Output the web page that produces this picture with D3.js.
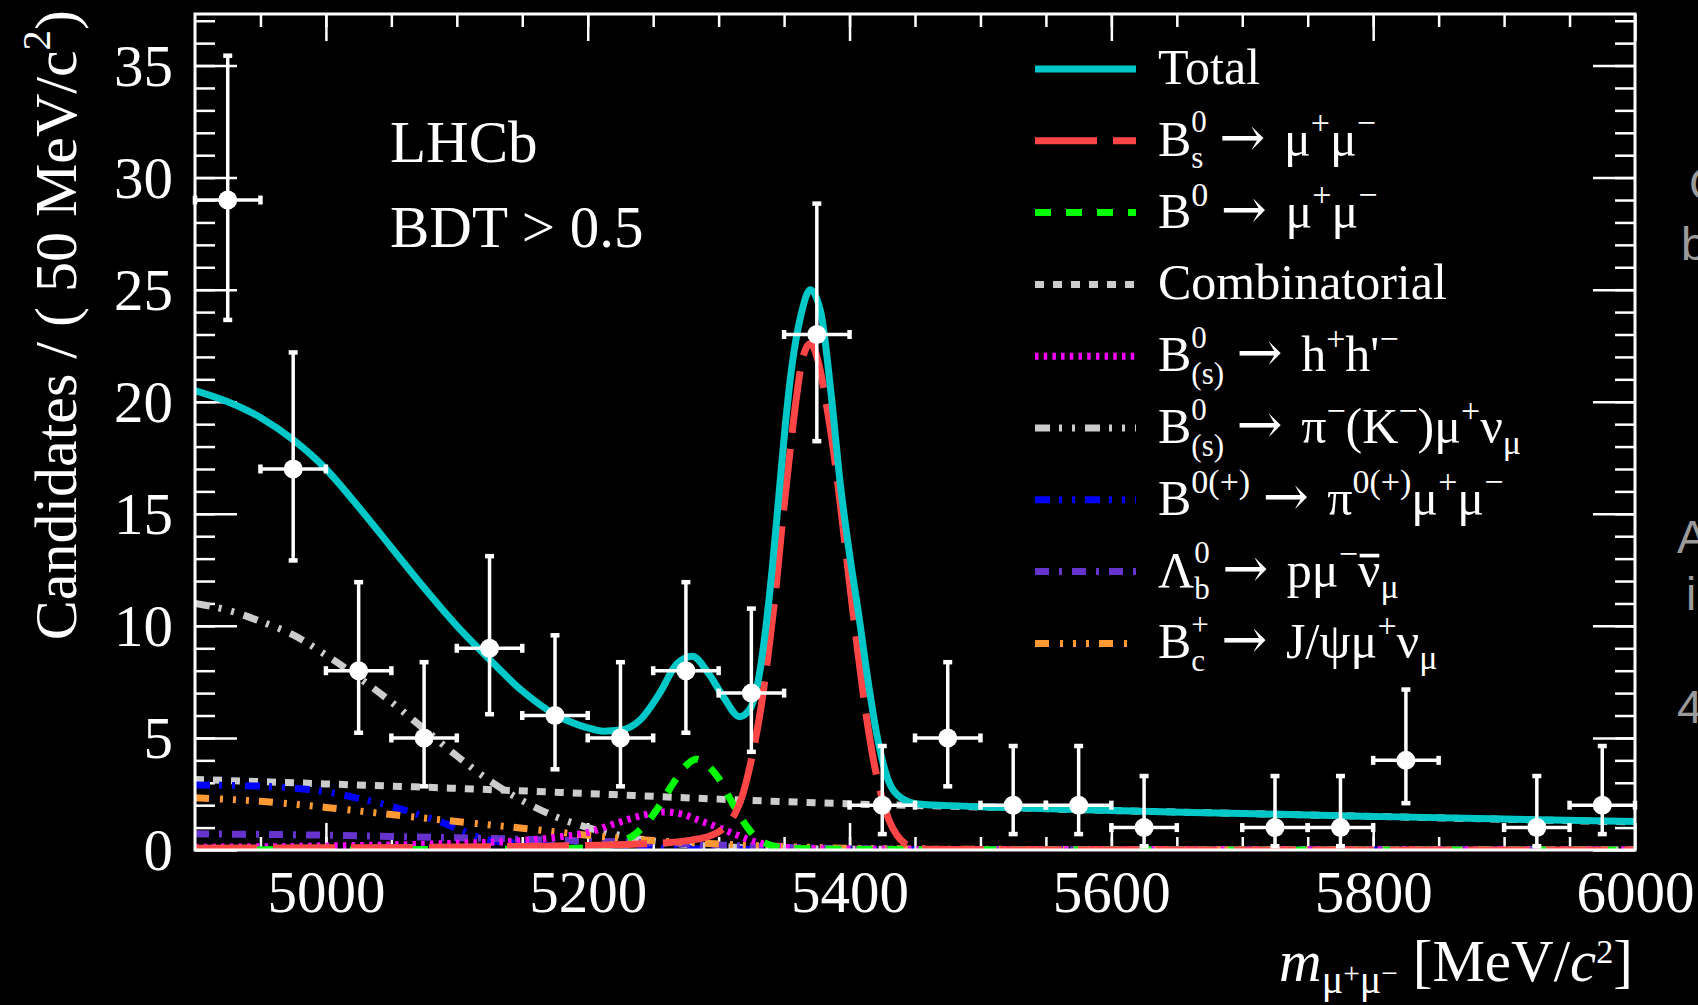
<!DOCTYPE html>
<html>
<head>
<meta charset="utf-8">
<script src="https://cdn.jsdelivr.net/npm/d3@7"></script>
<style>
  html, body { margin: 0; padding: 0; background: #000; }
  svg { display: block; }
  text { font-family: "Liberation Serif", "Times New Roman", serif; fill: #fff; white-space: pre; }
</style>
</head>
<body>
<svg id="chart" width="1698" height="1005"></svg>
<script>
// ---- data points (50 MeV bins) ----
const massCenters = [4925, 4975, 5025, 5075, 5125, 5175, 5225, 5275, 5325, 5375, 5425,
                     5475, 5525, 5575, 5625, 5675, 5725, 5775, 5825, 5875, 5925, 5975]
const counts  = [29, 17, 8, 5, 9, 6, 5, 8, 7, 23, 2, 5, 2, 2, 1, 0, 1, 1, 4, 0, 1, 2]
const errLow  = [5.35, 4.08, 2.77, 2.16, 2.94, 2.40, 2.16, 2.77, 2.62, 4.76, 1.29,
                 2.16, 1.29, 1.29, 0.83, 0, 0.83, 0.83, 1.91, 0, 0.83, 1.29]
const errHigh = [6.44, 5.20, 3.95, 3.38, 4.11, 3.58, 3.38, 3.95, 3.77, 5.84, 2.64,
                 3.38, 2.64, 2.64, 2.30, 0, 2.30, 2.30, 3.16, 0, 2.30, 2.64]
const binHalf = 25

// ---- fit components ----
const totalMass  = [4900, 4925, 4950, 4975, 5000, 5025, 5050, 5075, 5100, 5125, 5150, 5175, 5200, 5212, 5225,
                    5240, 5255, 5268, 5280, 5292, 5304, 5316, 5324, 5331, 5336, 5341, 5346, 5351, 5356, 5363,
                    5370, 5378, 5386, 5393, 5400, 5407, 5414, 5421, 5429, 5440, 5452, 5475, 5520, 5600, 5700,
                    5800, 5900, 6000]
const totalYield = [20.5, 20.0, 19.3, 18.3, 17.0, 15.3, 13.5, 11.7, 10.0, 8.5, 7.1, 6.05, 5.45, 5.3, 5.35,
                    5.8, 7.0, 8.3, 8.65, 7.9, 6.8, 5.95, 6.3, 7.8, 9.9, 12.6, 15.8, 19.0, 21.6, 23.9,
                    25.0, 24.0, 20.3, 16.3, 13.2, 10.5, 7.6, 5.1, 3.2, 2.3, 2.05, 1.98, 1.9, 1.76, 1.63,
                    1.5, 1.38, 1.27]

const bsMass  = [4900, 5000, 5100, 5150, 5200, 5230, 5260, 5280, 5292, 5303, 5312, 5318, 5323, 5328, 5333,
                 5338, 5344, 5349, 5354, 5359, 5364, 5370, 5376, 5382, 5388, 5394, 5400, 5406, 5412, 5418,
                 5424, 5430, 5436, 5442, 5450, 5465, 5500, 6000]
const bsYield = [0.08, 0.1, 0.13, 0.16, 0.2, 0.25, 0.32, 0.45, 0.6, 0.94, 1.57, 2.4, 3.5, 4.9, 6.6,
                 8.8, 11.8, 14.8, 17.5, 20.0, 21.9, 22.6, 21.8, 20.0, 17.7, 14.9, 11.9, 9.0, 6.3, 4.1,
                 2.5, 1.35, 0.68, 0.3, 0.1, 0.03, 0.01, 0.0]

const bdMass  = [4900, 5100, 5180, 5210, 5225, 5235, 5245, 5255, 5265, 5274, 5283, 5292, 5300, 5309, 5318,
                 5327, 5336, 5345, 5360, 5400, 5500, 6000]
const bdYield = [0.01, 0.02, 0.06, 0.15, 0.35, 0.65, 1.2, 2.0, 2.95, 3.7, 4.05, 3.75, 3.2, 2.25, 1.35,
                 0.65, 0.3, 0.14, 0.07, 0.03, 0.01, 0.0]

const combMass  = [4900, 5000, 5100, 5200, 5300, 5400, 5500, 5600, 5700, 5800, 5900, 6000]
const combYield = [3.15, 2.95, 2.75, 2.52, 2.27, 2.06, 1.92, 1.76, 1.63, 1.5, 1.37, 1.25]

const hhMass  = [4900, 5000, 5100, 5150, 5180, 5200, 5222, 5243, 5258, 5272, 5286, 5300, 5312, 5325, 5340,
                 5360, 5400, 5500, 6000]
const hhYield = [0.12, 0.18, 0.3, 0.42, 0.6, 0.78, 1.2, 1.56, 1.7, 1.6, 1.3, 1.0, 0.72, 0.42, 0.2,
                 0.08, 0.04, 0.02, 0.01]

const pimunuMass  = [4900, 4925, 4950, 4975, 5000, 5025, 5050, 5075, 5100, 5125, 5150, 5175, 5200, 5225,
                     5250, 5275, 5300, 5350, 5400, 5500, 6000]
const pimunuYield = [11.0, 10.7, 10.2, 9.6, 8.7, 7.7, 6.6, 5.4, 4.2, 3.1, 2.2, 1.5, 1.0, 0.65,
                     0.4, 0.25, 0.15, 0.07, 0.04, 0.02, 0.01]

const pimumuMass  = [4900, 4950, 4975, 5000, 5025, 5050, 5075, 5090, 5105, 5118, 5130, 5150, 5200, 5250,
                     5300, 5400, 6000]
const pimumuYield = [2.9, 2.85, 2.76, 2.6, 2.3, 1.95, 1.5, 1.2, 0.85, 0.55, 0.4, 0.28, 0.15, 0.08,
                     0.04, 0.02, 0.0]

const lbMass  = [4900, 5000, 5050, 5100, 5150, 5200, 5250, 5300, 5350, 5400, 5500, 6000]
const lbYield = [0.72, 0.66, 0.6, 0.55, 0.48, 0.4, 0.32, 0.22, 0.12, 0.06, 0.02, 0.0]

const bcMass  = [4900, 4950, 5000, 5050, 5100, 5150, 5200, 5250, 5300, 5350, 5400, 5500, 6000]
const bcYield = [2.33, 2.17, 1.9, 1.58, 1.27, 0.97, 0.66, 0.42, 0.27, 0.15, 0.08, 0.03, 0.0]

// ---- axes ----
const xMajorTicks = [5000, 5200, 5400, 5600, 5800, 6000]
const yMajorTicks = [0, 5, 10, 15, 20, 25, 30, 35]
const xDomain = [4900, 6000]
const yDomain = [0, 37.3]

// ---- layout ----
const plot = { left: 195, right: 1635, top: 14, bottom: 850 }
const svg = d3.select('#chart')

const x = d3.scaleLinear().domain(xDomain).range([plot.left, plot.right])
const y = d3.scaleLinear().domain(yDomain).range([plot.bottom, plot.top])

svg.append('rect').attr('width', 1698).attr('height', 1005).attr('fill', '#000')

svg.append('clipPath').attr('id', 'plotClip')
  .append('rect')
  .attr('x', plot.left).attr('y', plot.top)
  .attr('width', plot.right - plot.left).attr('height', plot.bottom - plot.top)

// rich text: plain runs, superscripts, subscripts, stacked sup/sub
const ARROW_FONT = 'DejaVu Serif'
function drawRich(parent, parts, size, px, py, anchor, rotate) {
  const g = parent.append('g').attr('font-size', size)
  let cx = 0
  const put = (str, s, dy, italic, font) => {
    const t = g.append('text')
      .attr('x', cx).attr('y', dy * size)
      .attr('font-size', s * size)
      .attr('font-style', italic ? 'italic' : null)
      .text(str)
    if (font) t.style('font-family', font)
    return t.node().getComputedTextLength()
  }
  parts.forEach(p => {
    if (p.dx != null) {
      cx += p.dx
    } else if (p.t != null) {
      const w = put(p.t, p.s || 1, p.dy || 0, p.it, p.f)
      if (p.bar) {
        g.append('line')
          .attr('x1', cx + w * 0.08).attr('x2', cx + w * 0.95)
          .attr('y1', -size * 0.62).attr('y2', -size * 0.62)
          .attr('stroke', '#fff').attr('stroke-width', size * 0.075)
      }
      cx += w
    } else {
      // stacked sup+sub are a little smaller so they do not collide
      const stacked = p.sup != null && p.sub != null
      const s = stacked ? 0.62 : 0.68
      const w1 = p.sup != null ? put(p.sup, s, stacked ? -0.47 : -0.43) : 0
      const w2 = p.sub != null ? put(p.sub, s, stacked ? 0.25 : 0.22) : 0
      cx += Math.max(w1, w2)
    }
  })
  const shift = anchor === 'end' ? -cx : 0
  const rot = rotate ? ` rotate(${rotate})` : ''
  g.attr('transform', `translate(${px},${py})${rot} translate(${shift},0)`)
  return g
}

// ---- axes (ticks point inward) ----
function styleAxis(g) {
  g.select('.domain').remove()
  g.selectAll('line').attr('stroke', '#fff').attr('stroke-width', 2.5)
  g.attr('font-size', 59).attr('font-family', null)
}

const xMinorTicks = d3.range(4950, 6000, 50)
const yMinorTicks = d3.range(1, 38, 1)

svg.append('g').attr('transform', `translate(0,${plot.bottom})`)
  .call(d3.axisBottom(x).tickValues(xMinorTicks).tickSize(-13).tickSizeOuter(0).tickFormat(''))
  .call(styleAxis)
svg.append('g').attr('transform', `translate(0,${plot.bottom})`)
  .call(d3.axisBottom(x).tickValues(xMajorTicks).tickSize(-27).tickSizeOuter(0).tickPadding(20).tickFormat(d3.format('d')))
  .call(styleAxis)
svg.append('g').attr('transform', `translate(0,${plot.top})`)
  .call(d3.axisTop(x).tickValues(xMinorTicks).tickSize(-13).tickSizeOuter(0).tickFormat(''))
  .call(styleAxis)
svg.append('g').attr('transform', `translate(0,${plot.top})`)
  .call(d3.axisTop(x).tickValues(xMajorTicks).tickSize(-27).tickSizeOuter(0).tickFormat(''))
  .call(styleAxis)

svg.append('g').attr('transform', `translate(${plot.left},0)`)
  .call(d3.axisLeft(y).tickValues(yMinorTicks).tickSize(-20).tickSizeOuter(0).tickFormat(''))
  .call(styleAxis)
svg.append('g').attr('transform', `translate(${plot.left},0)`)
  .call(d3.axisLeft(y).tickValues(yMajorTicks).tickSize(-42).tickSizeOuter(0).tickPadding(22).tickFormat(d3.format('d')))
  .call(styleAxis)
  .selectAll('text').attr('dy', '0.33em')
svg.append('g').attr('transform', `translate(${plot.right},0)`)
  .call(d3.axisRight(y).tickValues(yMinorTicks).tickSize(-20).tickSizeOuter(0).tickFormat(''))
  .call(styleAxis)
svg.append('g').attr('transform', `translate(${plot.right},0)`)
  .call(d3.axisRight(y).tickValues(yMajorTicks).tickSize(-42).tickSizeOuter(0).tickFormat(''))
  .call(styleAxis)

// ---- curves ----
const line = d3.line()
  .x(d => x(d[0]))
  .y(d => y(d[1]))
  .curve(d3.curveMonotoneX)

const styles = {
  total:  { color: '#00c8c8', dash: null,                 width: 7 },
  bs:     { color: '#ff4646', dash: '62,16',              width: 7 },
  bd:     { color: '#00ff00', dash: '16,15',              width: 7 },
  comb:   { color: '#cccccc', dash: '9,9',                width: 7 },
  hh:     { color: '#ff00ff', dash: '3.5,5.2',            width: 7 },
  pimunu: { color: '#cccccc', dash: '15,9,3,10,3,10',     width: 7 },
  pimumu: { color: '#0000ff', dash: '15,9,3,10,3,10',     width: 7 },
  lb:     { color: '#6633cc', dash: '14,10,3,10',         width: 7 },
  bc:     { color: '#ff9933', dash: '14,11,3,10,3,10,3,10', width: 7 }
}

const curves = [
  ['comb', combMass, combYield],
  ['pimunu', pimunuMass, pimunuYield],
  ['pimumu', pimumuMass, pimumuYield],
  ['lb', lbMass, lbYield],
  ['bc', bcMass, bcYield],
  ['hh', hhMass, hhYield],
  ['bd', bdMass, bdYield],
  ['bs', bsMass, bsYield],
  ['total', totalMass, totalYield]
]

const curveLayer = svg.append('g').attr('clip-path', 'url(#plotClip)')
curves.forEach(([key, ms, ys]) => {
  const st = styles[key]
  curveLayer.append('path')
    .datum(ms.map((m, i) => [m, ys[i]]))
    .attr('d', line)
    .attr('fill', 'none')
    .attr('stroke', st.color)
    .attr('stroke-width', st.width)
    .attr('stroke-dasharray', st.dash)
    .attr('stroke-linecap', 'butt')
})

// ---- data points ----
const points = massCenters.map((m, i) => ({ m, n: counts[i], lo: errLow[i], hi: errHigh[i] }))
  .filter(d => d.n > 0)
const pts = svg.append('g').attr('stroke', '#fff').attr('fill', '#fff')
points.forEach(d => {
  const cx = x(d.m), cy = y(d.n)
  const yTop = y(d.n + d.hi), yBot = y(d.n - d.lo)
  const xL = x(d.m - binHalf), xR = x(d.m + binHalf)
  pts.append('line').attr('x1', cx).attr('x2', cx).attr('y1', yTop).attr('y2', yBot).attr('stroke-width', 3.5)
  pts.append('line').attr('x1', xL).attr('x2', xR).attr('y1', cy).attr('y2', cy).attr('stroke-width', 3.5)
  ;[yTop, yBot].forEach(yy => pts.append('line')
    .attr('x1', cx - 4.5).attr('x2', cx + 4.5).attr('y1', yy).attr('y2', yy).attr('stroke-width', 4.5))
  ;[xL, xR].forEach(xx => pts.append('line')
    .attr('x1', xx).attr('x2', xx).attr('y1', cy - 4.5).attr('y2', cy + 4.5).attr('stroke-width', 4.5))
  pts.append('circle').attr('cx', cx).attr('cy', cy).attr('r', 9.5).attr('stroke', 'none')
})

// ---- frame ----
svg.append('rect')
  .attr('x', plot.left).attr('y', plot.top)
  .attr('width', plot.right - plot.left).attr('height', plot.bottom - plot.top)
  .attr('fill', 'none').attr('stroke', '#fff').attr('stroke-width', 3)

// ---- labels ----
svg.append('text').attr('x', 390).attr('y', 162).attr('font-size', 59).text('LHCb')
svg.append('text').attr('x', 390).attr('y', 247).attr('font-size', 59).text('BDT > 0.5')

drawRich(svg, [
  { t: 'Candidates / ( 50 MeV/c' }, { sup: '2' }, { t: ')' }
], 60, 76, 10, 'end', -90)

drawRich(svg, [
  { t: 'm', it: true },
  { t: 'μ', s: 0.68, dy: 0.2 }, { t: '+', s: 0.5, dy: 0.04 },
  { t: 'μ', s: 0.68, dy: 0.2 }, { t: '−', s: 0.5, dy: 0.04 },
  { t: ' [MeV/' }, { t: 'c', it: true }, { t: '2', s: 0.58, dy: -0.3 }, { t: ']' }
], 59, 1633, 981, 'end')

// ---- legend ----
const arrow = [{ t: ' ' }, { t: '→', f: ARROW_FONT, s: 1.1 }, { dx: 6 }, { t: ' ' }]
const legendKeys = ['total', 'bs', 'bd', 'comb', 'hh', 'pimunu', 'pimumu', 'lb', 'bc']
const legendLabels = [
  [{ t: 'Total' }],
  [{ t: 'B' }, { sup: '0', sub: 's' }, ...arrow, { t: 'μ' }, { sup: '+' }, { t: 'μ' }, { sup: '−' }],
  [{ t: 'B' }, { sup: '0' }, ...arrow, { t: 'μ' }, { sup: '+' }, { t: 'μ' }, { sup: '−' }],
  [{ t: 'Combinatorial' }],
  [{ t: 'B' }, { sup: '0', sub: '(s)' }, ...arrow, { t: 'h' }, { sup: '+' }, { t: 'h\'' }, { sup: '−' }],
  [{ t: 'B' }, { sup: '0', sub: '(s)' }, ...arrow, { t: 'π' }, { sup: '−' }, { t: '(K' }, { sup: '−' },
    { t: ')μ' }, { sup: '+' }, { t: 'ν' }, { sub: 'μ' }],
  [{ t: 'B' }, { sup: '0(+)' }, ...arrow, { t: 'π' }, { sup: '0(+)' }, { t: 'μ' }, { sup: '+' }, { t: 'μ' }, { sup: '−' }],
  [{ t: 'Λ' }, { sup: '0', sub: 'b' }, ...arrow, { t: 'pμ' }, { sup: '−' }, { t: 'ν', bar: true }, { sub: 'μ' }],
  [{ t: 'B' }, { sup: '+', sub: 'c' }, ...arrow, { t: 'J/ψμ' }, { sup: '+' }, { t: 'ν' }, { sub: 'μ' }]
]

const legend = svg.append('g')
legendKeys.forEach((key, i) => {
  const st = styles[key]
  const ly = 69 + i * 71.8
  legend.append('line')
    .attr('x1', 1035).attr('x2', 1136).attr('y1', ly).attr('y2', ly)
    .attr('stroke', st.color).attr('stroke-width', st.width)
    .attr('stroke-dasharray', st.dash)
  drawRich(legend, legendLabels[i], 50, 1158, ly + 15, 'start')
})

// ---- cut-off slide text at right edge ----
const sideText = svg.append('g').attr('font-size', 46)
sideText.append('text').attr('x', 1689).attr('y', 200).style('fill', '#9a9a9a').style('font-family', 'Liberation Sans').text('C')
sideText.append('text').attr('x', 1681).attr('y', 260).style('fill', '#9a9a9a').style('font-family', 'Liberation Sans').text('b')
sideText.append('text').attr('x', 1677).attr('y', 553).style('fill', '#9a9a9a').style('font-family', 'Liberation Sans').text('A')
sideText.append('text').attr('x', 1686).attr('y', 610).style('fill', '#9a9a9a').style('font-family', 'Liberation Sans').text('i')
sideText.append('text').attr('x', 1677).attr('y', 723).style('fill', '#9a9a9a').style('font-family', 'Liberation Sans').text('4')
</script>
</body>
</html>
